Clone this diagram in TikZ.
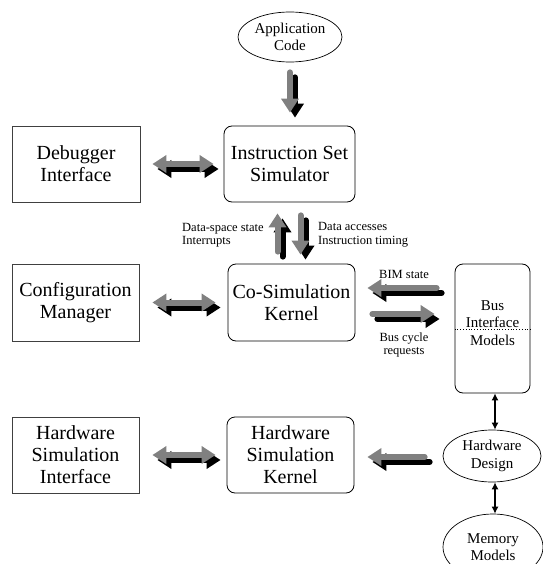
\documentclass[tikz,border=0pt]{standalone}
\usepackage{fontspec}
\setmainfont{Liberation Serif}
\usetikzlibrary{shapes.geometric,arrows.meta}

% fat grey arrow with a black shadow under it
\newcommand{\bigarrow}[2]{%
  \draw[#1,black,transform canvas={shift={(5pt,-5pt)}}] #2;
  \draw[#1,gray] #2;}

\begin{document}
\begin{tikzpicture}[x=1pt,y=-1pt,
    box/.style={draw=black!75,line width=0.8pt,minimum width=127pt,minimum height=76pt,
      inner sep=2pt,align=center,font=\fontsize{20}{22}\selectfont},
    kernel/.style={box,draw=black,rounded corners=8pt},
    oval/.style={ellipse,draw,line width=0.7pt,minimum width=104pt,minimum height=50pt,
      inner sep=0pt,align=center,font=\fontsize{15}{17.5}\selectfont},
    lbl/.style={align=left,inner sep=0pt,font=\fontsize{12.5}{13.5}\selectfont},
    fatone/.style={line width=6pt,line cap=round,-{Triangle[width=17pt,length=14pt]}},
    fattwo/.style={line width=6pt,{Triangle[width=17pt,length=14pt]}-{Triangle[width=17pt,length=14pt]}},
    thintwo/.style={line width=1.2pt,{Latex[width=7pt,length=7pt]}-{Latex[width=7pt,length=7pt]}}]
  \useasboundingbox (0,0) rectangle (542,564);

  % simulator side
  \node[oval] (app) at (290,37) {Application\\Code};
  \node[kernel,minimum width=131pt] (iss) at (289.5,164) {Instruction Set\\Simulator};
  \node[box,minimum width=128pt] (dbg) at (76,164) {Debugger\\Interface};
  \node[box,minimum height=77pt] (cfg) at (75.5,302.5) {Configuration\\Manager};
  \node[kernel,minimum height=77pt] (csk) at (291.5,302.5) {Co-Simulation\\Kernel};
  \node[box] (hsi) at (75.5,455) {Hardware\\Simulation\\Interface};
  \node[kernel] (hsk) at (290.5,455) {Hardware\\Simulation\\Kernel};

  % hardware side
  \node[kernel,minimum width=75pt,minimum height=129pt] (bim) at (492.5,328.5) {};
  \node[inner sep=0pt,align=center,font=\fontsize{15}{17.5}\selectfont]
    (bimtxt) at ([yshift=5.5pt]bim.center) {Bus\\Interface\\Models};
  \draw[dotted,line width=0.8pt] ([yshift=-0.5pt]bim.west) -- ([yshift=-0.5pt]bim.east);
  \node[oval,minimum width=98pt,minimum height=52pt] (hwd) at (492,456) {Hardware\\Design};
  \node[oval,minimum width=100pt,minimum height=66pt] (mem) at (493,547) {Memory\\Models};

  \draw[thintwo] ([xshift=2.5pt]bim.south) -- ([xshift=2.5pt]bim.south |- hwd.north);
  \draw[thintwo] ([xshift=3pt]hwd.south) -- ([xshift=3pt]hwd.south |- mem.north);

  % fat arrows
  \bigarrow{fatone,shorten <=10pt,shorten >=13pt}{(app.south) -- (app.south |- iss.north)}
  \bigarrow{fattwo,shorten <=12pt,shorten >=10pt}{(dbg.east) -- (iss.west)}
  \bigarrow{fattwo,shorten <=13pt,shorten >=12pt}{(cfg.east) -- (csk.west)}
  \bigarrow{fattwo,shorten <=13pt,shorten >=11pt}{(hsi.east) -- (hsk.west)}
  \bigarrow{fatone,shorten <=12pt,shorten >=11pt}{([xshift=-14pt]csk.north) -- ([xshift=-14pt]csk.north |- iss.south)}
  \bigarrow{fatone,shorten <=13pt,shorten >=9pt}{([xshift=11pt]iss.south) -- ([xshift=11pt]iss.south |- csk.north)}
  \bigarrow{fatone,shorten <=18pt,shorten >=12pt}{([yshift=40.5pt]bim.west) -- ([yshift=40.5pt]bim.west -| csk.east)}
  \bigarrow{fatone,shorten <=17pt,shorten >=20pt}{([yshift=-11.5pt]csk.east) -- ([yshift=-11.5pt]csk.east -| bim.west)}
  \bigarrow{fatone,shorten <=18pt,shorten >=13pt}{([yshift=-1pt]hwd.west) -- ([yshift=-1pt]hwd.west -| hsk.east)}

  % labels
  \node[lbl,anchor=west] (dsl) at (182,235) {Data-space state\\Interrupts};
  \node[lbl,anchor=west] (dal) at (318,235) {Data accesses\\Instruction timing};
  \node[lbl] (bsl) at (404,274) {BIM state};
  \node[lbl,align=center] (bcl) at (404,345) {Bus cycle\\requests};
\end{tikzpicture}
\end{document}
